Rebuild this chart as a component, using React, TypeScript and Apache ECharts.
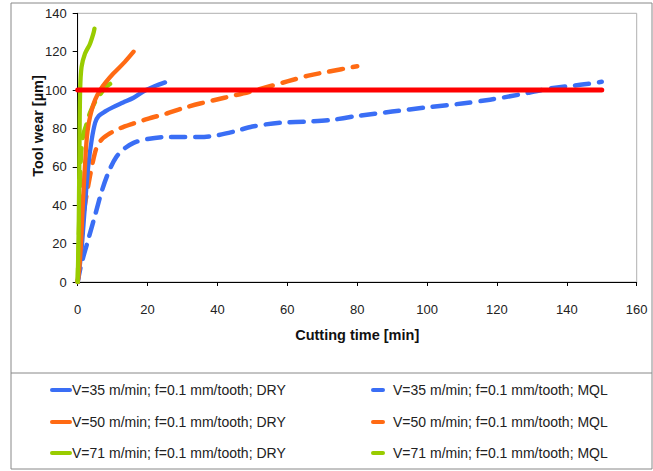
import React, { useEffect, useRef } from "react";
import * as echarts from "echarts";

const xTicks = [0, 20, 40, 60, 80, 100, 120, 140, 160];
const yTicks = [0, 20, 40, 60, 80, 100, 120, 140];

const seriesNames = [
  "V=35 m/min; f=0.1 mm/tooth; DRY",
  "V=50 m/min; f=0.1 mm/tooth; DRY",
  "V=71 m/min; f=0.1 mm/tooth; DRY",
  "V=35 m/min; f=0.1 mm/tooth; MQL",
  "V=50 m/min; f=0.1 mm/tooth; MQL",
  "V=71 m/min; f=0.1 mm/tooth; MQL",
];

const blueDry = [
  [0, 0], [1, 15], [2, 38], [3, 60], [4, 74], [5, 83], [6, 86.5], [8, 89], [10, 91],
  [13, 93.5], [16, 96], [19, 99.5], [22, 102], [25, 104],
];
const orangeDry = [
  [0, 0], [0.5, 8], [1, 22], [1.5, 42], [2, 58], [2.6, 75], [3.2, 83], [4, 89.5], [5, 95],
  [6.4, 100], [8, 104], [10.2, 108.6], [13.5, 114.7], [16, 120],
];
const greenDry = [
  [0, 0], [0.3, 30], [0.5, 70], [0.7, 100], [1.1, 112], [2.1, 119], [3.5, 124], [4.5, 129.5], [4.8, 132],
];
const blueMql = [
  [0, 0], [1, 9], [3, 22], [5, 35], [7, 48], [9, 58], [11, 65], [13, 69], [16, 72.5], [20, 74.5],
  [25, 75.5], [35, 75.5], [40, 76.5], [45, 78.5], [50, 81], [58, 83], [65, 83.5], [72, 84.3],
  [80, 86.5], [90, 88.8], [100, 91], [110, 93], [118, 95], [126, 97.5], [135, 100.8], [145, 103],
  [150, 104.3],
];
const orangeMql = [
  [0, 0], [1, 18], [1.6, 34], [2.5, 45], [3.5, 55], [4.5, 64], [5.5, 70.5], [7, 74.5], [9.2, 77.4],
  [12, 80], [16, 82.6], [20, 85], [25.5, 87.8], [30, 90.5], [35, 93], [42, 96], [49, 99], [55, 102],
  [60, 104.5], [66, 107.5], [72, 109.7], [80, 112.4],
];
const greenMql = [
  [0, 0], [0.3, 20], [0.6, 45], [0.9, 65], [1.5, 76], [2.5, 82], [3.5, 88], [5, 94], [6.5, 98],
  [8, 101.5], [9.5, 103.5],
];
const limitLine = [
  [0, 100], [150, 100],
];

const BLUE = "#3a6ef5";
const ORANGE = "#ff6a13";
const GREEN = "#99cc00";
const RED = "#ff0000";
const legendColors = [BLUE, ORANGE, GREEN];
const FONT = "'Liberation Sans', Arial, sans-serif";

export default function App() {
  const ref = useRef<HTMLDivElement>(null);
  useEffect(() => {
    if (!ref.current) return;
    const chart = echarts.init(ref.current, undefined, { renderer: "svg" });
    const solid = (name: string, data: number[][], color: string) => ({
      name,
      type: "line",
      data,
      smooth: 0.3,
      showSymbol: false,
      symbol: "none",
      color,
      lineStyle: { color, width: 4.3, cap: "round", join: "round" },
      silent: true,
    });
    const dashed = (name: string, data: number[][], color: string) => ({
      name,
      type: "line",
      data,
      smooth: 0.3,
      showSymbol: false,
      symbol: "none",
      color,
      lineStyle: { color, width: 4.5, type: [14, 10], cap: "round", join: "round" },
      silent: true,
    });
    const rowY = [390, 422, 453];
    const legendGraphics: any[] = [];
    rowY.forEach((y, i) => {
      legendGraphics.push({
        type: "rect",
        shape: { x: 50, y: y - 2, width: 22, height: 4, r: 2 },
        style: { fill: legendColors[i] },
        silent: true,
      });
      legendGraphics.push({
        type: "text",
        x: 72,
        y,
        style: {
          text: seriesNames[i],
          font: `14px ${FONT}`,
          fill: "#222",
          align: "left",
          verticalAlign: "middle",
        },
        silent: true,
      });
      legendGraphics.push({
        type: "rect",
        shape: { x: 371, y: y - 2, width: 14, height: 4, r: 2 },
        style: { fill: legendColors[i] },
        silent: true,
      });
      legendGraphics.push({
        type: "text",
        x: 393,
        y,
        style: {
          text: seriesNames[i + 3],
          font: `14px ${FONT}`,
          fill: "#222",
          align: "left",
          verticalAlign: "middle",
        },
        silent: true,
      });
    });
    chart.setOption({
      animation: false,
      textStyle: { fontFamily: FONT },
      grid: {
        left: 77.7,
        top: 13.3,
        right: 16.3,
        bottom: 189,
        show: true,
        borderColor: "#b0b0b0",
        borderWidth: 1,
        backgroundColor: "transparent",
      },
      xAxis: {
        type: "value",
        min: xTicks[0],
        max: xTicks[xTicks.length - 1],
        interval: 20,
        name: "Cutting time [min]",
        nameLocation: "middle",
        nameGap: 45,
        nameTextStyle: { fontFamily: FONT, fontWeight: "bold", fontSize: 14.5, color: "#111" },
        axisLine: { show: true, onZero: false, lineStyle: { color: "#000", width: 1 } },
        axisTick: { show: true, inside: false, length: 4, lineStyle: { color: "#000" } },
        axisLabel: { fontFamily: FONT, fontSize: 13, color: "#222", margin: 21 },
        splitLine: { show: false },
      },
      yAxis: {
        type: "value",
        min: yTicks[0],
        max: yTicks[yTicks.length - 1],
        interval: 20,
        axisLine: { show: true, onZero: false, lineStyle: { color: "#000", width: 1 } },
        axisTick: { show: true, inside: false, length: 5, lineStyle: { color: "#000" } },
        axisLabel: { fontFamily: FONT, fontSize: 13, color: "#222", margin: 11 },
        splitLine: { show: false },
      },
      graphic: [
        {
          type: "rect",
          shape: { x: 11, y: 3, width: 641, height: 466 },
          style: { fill: "none", stroke: "#888", lineWidth: 1 },
          silent: true,
        },
        {
          type: "line",
          shape: { x1: 11, y1: 373, x2: 652, y2: 373 },
          style: { stroke: "#888", lineWidth: 1 },
          silent: true,
        },
        {
          type: "text",
          x: 38,
          y: 126,
          rotation: Math.PI / 2,
          style: {
            text: "Tool wear [µm]",
            font: `bold 14.5px ${FONT}`,
            fill: "#111",
            align: "center",
            verticalAlign: "middle",
          },
          silent: true,
        },
        ...legendGraphics,
      ],
      series: [
        dashed(seriesNames[3], blueMql, BLUE),
        dashed(seriesNames[4], orangeMql, ORANGE),
        solid(seriesNames[0], blueDry, BLUE),
        dashed(seriesNames[5], greenMql, GREEN),
        solid(seriesNames[1], orangeDry, ORANGE),
        solid(seriesNames[2], greenDry, GREEN),
        {
          name: "Limit",
          type: "line",
          data: limitLine,
          showSymbol: false,
          symbol: "none",
          color: RED,
          lineStyle: { color: RED, width: 5, cap: "round" },
          silent: true,
        },
      ],
    });
    return () => chart.dispose();
  }, []);
  return (
    <div
      ref={ref}
      style={{ position: "fixed", left: 0, top: 0, width: 653, height: 471, background: "#fff" }}
    />
  );
}
